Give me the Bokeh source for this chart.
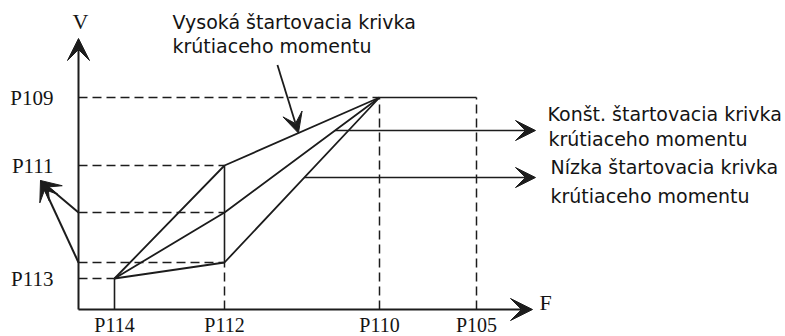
from bokeh.plotting import figure
from bokeh.models import Range1d, Arrow, VeeHead
from bokeh.core.properties import value
from bokeh.embed import file_html
from bokeh.resources import INLINE

# ---- data (schematic units, origin at the axes' crossing) ----
F_LABELS = ["P114", "P112", "P110", "P105"]
F_VALUES = [36, 146, 301, 398]
V_LABELS = ["P113", "P111", "P109"]
V_VALUES = [31, 144, 212]
CURVE_NAMES = ["Vysoká", "Konšt.", "Nízka"]
CURVE_AT_P112 = [144, 97, 47]          # V reached at P112 by each curve
AXIS_F_MAX = 454
AXIS_V_MAX = 271

TXT_HIGH = ["Vysoká štartovacia krivka", "krútiaceho momentu"]
TXT_CONST = ["Konšt. štartovacia krivka", "krútiaceho momentu"]
TXT_LOW = ["Nízka štartovacia krivka", "krútiaceho momentu"]

INK = "#1c1c1c"
TXT = "#141414"
SANS = value("DejaVu Sans")
SERIF = value("Liberation Serif")

f114, f112, f110, f105 = F_VALUES
v113, v111, v109 = V_VALUES
high, mid, low = CURVE_AT_P112

p = figure(width=785, height=336, output_backend="svg", toolbar_location=None,
           x_range=Range1d(-78, 707), y_range=Range1d(-27, 309),
           x_axis_type=None, y_axis_type=None, min_border=0)
p.grid.visible = False
p.outline_line_color = None
p.background_fill_color = "white"
p.border_fill_color = "white"

# dashed guide lines
dx0 = [0, 0, 0, 0, 0, f112, f110, f105]
dy0 = [v109, v111, mid, low, v113, 0, 0, 0]
dx1 = [f110, f112, f112, f112, f114, f112, f110, f105]
dy1 = [v109, v111, mid, low, v113, low, v109, v109]
p.segment(dx0, dy0, dx1, dy1, line_color=INK, line_width=1.5, line_dash="9 5")

# solid guide lines
p.segment([f114, f112, f110], [0, low, v109], [f114, f112, f105], [v113, v111, v109],
          line_color=INK, line_width=1.6)

# the three torque curves
for lvl in CURVE_AT_P112:
    p.line([f114, f112, f110], [v113, lvl, v109], line_color=INK, line_width=1.8)

# axes with arrows
p.add_layout(Arrow(x_start=0, y_start=0, x_end=0, y_end=AXIS_V_MAX, line_color=INK, line_width=2,
                   end=VeeHead(size=22, fill_color=INK, line_color=INK)))
p.add_layout(Arrow(x_start=0, y_start=0, x_end=AXIS_F_MAX, y_end=0, line_color=INK, line_width=2,
                   end=VeeHead(size=22, fill_color=INK, line_color=INK)))

# bracket arrows pointing to P111 label from the two intermediate levels
tip = (-38, 129)
for lvl in (mid, low):
    p.add_layout(Arrow(x_start=0, y_start=lvl, x_end=tip[0], y_end=tip[1], line_color=INK, line_width=2,
                       end=VeeHead(size=20, fill_color=INK, line_color=INK)))

def on_seg(x0, y0, x1, y1, t):
    return x0 + (x1 - x0) * t, y0 + (y1 - y0) * t

# label arrows
hx, hy = on_seg(f112, high, f110, v109, 0.477)
p.add_layout(Arrow(x_start=hx - 21, y_start=hy + 68, x_end=hx, y_end=hy, line_color=INK, line_width=1.8,
                   end=VeeHead(size=20, fill_color=INK, line_color=INK)))
cx, cy = on_seg(f112, mid, f110, v109, 0.713)
p.add_layout(Arrow(x_start=cx, y_start=cy, x_end=457, y_end=cy, line_color=INK, line_width=1.6,
                   end=VeeHead(size=20, fill_color=INK, line_color=INK)))
lx, ly = on_seg(f112, low, f110, v109, 0.515)
p.add_layout(Arrow(x_start=lx, y_start=ly, x_end=457, y_end=ly, line_color=INK, line_width=1.6,
                   end=VeeHead(size=20, fill_color=INK, line_color=INK)))

# axis titles
p.text([2], [288], text=["V"], text_font=SERIF, text_font_size="22px", text_color=TXT,
       text_align="center", text_baseline="middle")
p.text([461], [7], text=["F"], text_font=SERIF, text_font_size="22px", text_color=TXT,
       text_align="left", text_baseline="middle")

# tick labels
p.text([-25] * 3, V_VALUES, text=V_LABELS, text_font=SERIF, text_font_size="21px", text_color=TXT,
       text_align="right", text_baseline="middle")
p.text(F_VALUES, [-15] * 4, text=F_LABELS, text_font=SERIF, text_font_size="20px", text_color=TXT,
       text_align="center", text_baseline="middle")

# annotations
p.text([94, 94], [288, 264], text=TXT_HIGH, text_font=SANS, text_font_size="19px", text_color=TXT,
       text_align="left", text_baseline="middle")
p.text([469, 470], [196, 171], text=TXT_CONST, text_font=SANS, text_font_size="19px", text_color=TXT,
       text_align="left", text_baseline="middle")
p.text([472, 472], [143, 114], text=TXT_LOW, text_font=SANS, text_font_size="19px", text_color=TXT,
       text_align="left", text_baseline="middle")

open("out.html", "w").write(file_html(p, INLINE))
